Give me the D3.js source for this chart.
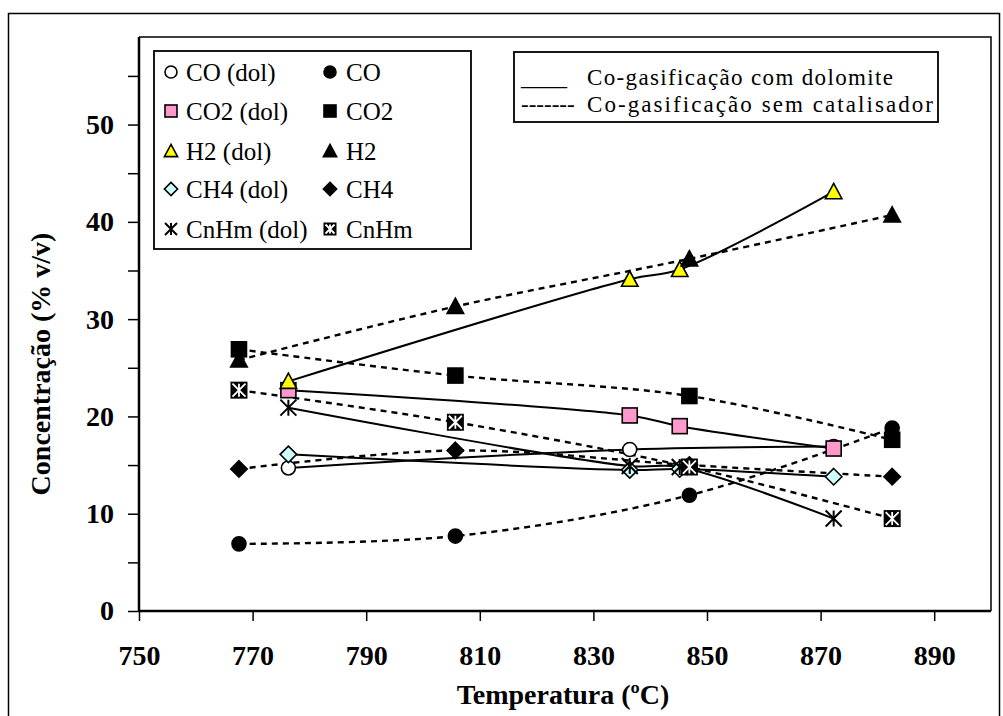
<!DOCTYPE html>
<html>
<head>
<meta charset="utf-8">
<script src="https://cdn.jsdelivr.net/npm/d3@7/dist/d3.min.js"></script>
<style>
  html, body { margin: 0; padding: 0; background: #fff; }
  svg { display: block; }
</style>
</head>
<body>
<svg id="chart" width="1003" height="716"></svg>
<script>
// ---------------- DATA ----------------
const xTicks = [750, 770, 790, 810, 830, 850, 870, 890];
const yTicks = [0, 10, 20, 30, 40, 50];
const yMinorTicks = [5, 15, 25, 35, 45, 55];

// Co-gasificação com dolomite (solid lines)
const tempsDol = [776.3, 836.4, 845.2, 872.3];
const coDol    = [14.7, 16.6, null, 16.9];
const co2Dol   = [22.7, 20.1, 19.0, 16.7];
const h2Dol    = [23.6, 34.1, 35.1, 43.1];
const ch4Dol   = [16.1, 14.5, 14.6, 13.8];
const cnhmDol  = [20.9, 14.9, 14.8, 9.5];

// Co-gasificação sem catalisador (dashed lines)
const tempsSem = [767.6, 805.7, 846.9, 882.6];
const coSem    = [6.9, 7.7, 11.9, 18.8];
const co2Sem   = [26.9, 24.2, 22.1, 17.6];
const h2Sem    = [25.8, 31.3, 36.2, 40.7];
const ch4Sem   = [14.6, 16.5, 15.0, 13.8];
const cnhmSem  = [22.7, 19.4, 14.8, 9.5];

const seriesNames = ["CO (dol)", "CO", "CO2 (dol)", "CO2", "H2 (dol)", "H2", "CH4 (dol)", "CH4", "CnHm (dol)", "CnHm"];
const lineLegend = ["Co-gasificação com dolomite", "Co-gasificação sem catalisador"];
const lineLegendKeys = ["____", "-------"];
const xTitle = "Temperatura (ºC)";
const yTitle = "Concentração (% v/v)";

// ---------------- STYLE / LAYOUT ----------------
const FONT = "'Liberation Serif', 'Times New Roman', 'DejaVu Serif', serif";
const svg = d3.select("#chart");
const plot = { left: 139, right: 991, top: 37, bottom: 611 };
const x = d3.scaleLinear().domain([750, 900]).range([plot.left, plot.right]);
const y = d3.scaleLinear().domain([0, 59]).range([plot.bottom, plot.top]);

const series = [
  { name: seriesNames[0], temps: tempsDol, vals: coDol,   marker: "circle",   fill: "#ffffff", dash: null },
  { name: seriesNames[1], temps: tempsSem, vals: coSem,   marker: "circle",   fill: "#000000", dash: "6,5" },
  { name: seriesNames[2], temps: tempsDol, vals: co2Dol,  marker: "square",   fill: "#ff99cc", dash: null },
  { name: seriesNames[3], temps: tempsSem, vals: co2Sem,  marker: "square",   fill: "#000000", dash: "6,5" },
  { name: seriesNames[4], temps: tempsDol, vals: h2Dol,   marker: "triangle", fill: "#ffff00", dash: null },
  { name: seriesNames[5], temps: tempsSem, vals: h2Sem,   marker: "triangle", fill: "#000000", dash: "6,5" },
  { name: seriesNames[6], temps: tempsDol, vals: ch4Dol,  marker: "diamond",  fill: "#ccffff", dash: null },
  { name: seriesNames[7], temps: tempsSem, vals: ch4Sem,  marker: "diamond",  fill: "#000000", dash: "6,5" },
  { name: seriesNames[8], temps: tempsDol, vals: cnhmDol, marker: "star",     fill: "none",    dash: null },
  { name: seriesNames[9], temps: tempsSem, vals: cnhmSem, marker: "boxx",     fill: "#000000", dash: "6,5" }
];

svg.append("rect").attr("width", 1003).attr("height", 716).attr("fill", "#fff");

// outer border
svg.append("rect").attr("x", 8.5).attr("y", 13.5).attr("width", 991).attr("height", 712)
  .attr("fill", "none").attr("stroke", "#000").attr("stroke-width", 1.5);

// plot frame (top/right)
svg.append("path")
  .attr("d", `M${plot.left},${plot.top}H${plot.right}V${plot.bottom}`)
  .attr("fill", "none").attr("stroke", "#000").attr("stroke-width", 1.5);

// axes
const xAxis = d3.axisBottom(x).tickValues(xTicks).tickSize(10).tickPadding(24).tickFormat(d3.format("d"));
const gx = svg.append("g").attr("transform", `translate(0,${plot.bottom})`).call(xAxis);
gx.select(".domain").attr("stroke-width", 2.5).attr("d", `M${plot.left},0H${plot.right}`);
gx.selectAll(".tick line").attr("stroke-width", 1.5);
gx.selectAll(".tick text").attr("font-size", 28).attr("font-weight", "bold").attr("dy", "0.71em");

const yAxis = d3.axisLeft(y).tickValues(yTicks).tickSize(11).tickPadding(14).tickFormat(d3.format("d"));
const gy = svg.append("g").attr("transform", `translate(${plot.left},0)`).call(yAxis);
gy.select(".domain").attr("stroke-width", 2.5).attr("d", `M0,${plot.top}V${plot.bottom}`);
gy.selectAll(".tick line").attr("stroke-width", 1.5);
gy.selectAll(".tick text").attr("font-size", 28).attr("font-weight", "bold");

const gyMinor = svg.append("g").attr("transform", `translate(${plot.left},0)`)
  .call(d3.axisLeft(y).tickValues(yMinorTicks).tickSize(11).tickFormat(""));
gyMinor.select(".domain").remove();
gyMinor.selectAll(".tick line").attr("stroke-width", 1.5);

// axis titles
svg.append("text").attr("x", (plot.left + plot.right) / 2 - 2).attr("y", 704)
  .attr("text-anchor", "middle").attr("font-size", 28).attr("font-weight", "bold")
  .text(xTitle);
svg.append("text").attr("transform", `translate(50,${(plot.top + plot.bottom) / 2 + 40}) rotate(-90)`)
  .attr("text-anchor", "middle").attr("font-size", 28).attr("font-weight", "bold")
  .text(yTitle);

// markers
function drawMarker(g, type, fill, cx, cy, s) {
  const h = s / 2;
  if (type === "circle") {
    g.append("circle").attr("cx", cx).attr("cy", cy).attr("r", h)
      .attr("fill", fill).attr("stroke", "#000").attr("stroke-width", 1.6);
  } else if (type === "square") {
    g.append("rect").attr("x", cx - h).attr("y", cy - h).attr("width", s).attr("height", s)
      .attr("fill", fill).attr("stroke", "#000").attr("stroke-width", 1.6);
  } else if (type === "triangle") {
    const hh = s * 0.55;
    g.append("path").attr("d", `M${cx},${cy - hh}L${cx + hh},${cy + hh * 0.85}L${cx - hh},${cy + hh * 0.85}Z`)
      .attr("fill", fill).attr("stroke", "#000").attr("stroke-width", 1.6);
  } else if (type === "diamond") {
    const d = s * 0.55;
    g.append("path").attr("d", `M${cx},${cy - d}L${cx + d},${cy}L${cx},${cy + d}L${cx - d},${cy}Z`)
      .attr("fill", fill).attr("stroke", "#000").attr("stroke-width", 1.6);
  } else if (type === "star") {
    const d = s * 0.5;
    g.append("path").attr("d",
      `M${cx - d},${cy - d}L${cx + d},${cy + d}M${cx + d},${cy - d}L${cx - d},${cy + d}M${cx},${cy - d}L${cx},${cy + d}`)
      .attr("fill", "none").attr("stroke", "#000").attr("stroke-width", 2);
  } else if (type === "boxx") {
    g.append("rect").attr("x", cx - h).attr("y", cy - h).attr("width", s).attr("height", s).attr("fill", "#000");
    const d = h - 2;
    g.append("path").attr("d",
      `M${cx - d},${cy - d}L${cx + d},${cy + d}M${cx + d},${cy - d}L${cx - d},${cy + d}M${cx},${cy - d}L${cx},${cy + d}`)
      .attr("fill", "none").attr("stroke", "#fff").attr("stroke-width", 1.8);
  }
}
const markerSize = { circle: 14, square: 15, triangle: 15, diamond: 15, star: 16, boxx: 17 };

// lines
const line = d3.line().x(d => x(d[0])).y(d => y(d[1])).curve(d3.curveCatmullRom.alpha(0.5));
const gLines = svg.append("g");
series.forEach(s => {
  const pts = s.temps.map((t, i) => [t, s.vals[i]]).filter(p => p[1] !== null);
  gLines.append("path").attr("d", line(pts)).attr("fill", "none").attr("stroke", "#000")
    .attr("stroke-width", s.dash ? 2.4 : 2).attr("stroke-dasharray", s.dash);
});

// points
const gPts = svg.append("g");
series.forEach(s => {
  s.temps.forEach((t, i) => {
    if (s.vals[i] === null) return;
    drawMarker(gPts, s.marker, s.fill, x(t), y(s.vals[i]), markerSize[s.marker]);
  });
});

// legend 1 (markers)
const lg1 = svg.append("g");
lg1.append("rect").attr("x", 154).attr("y", 51).attr("width", 317).attr("height", 198)
  .attr("fill", "#fff").attr("stroke", "#000").attr("stroke-width", 1.8);
const rowY = [72, 111, 151, 189, 229];
series.forEach((s, i) => {
  const row = Math.floor(i / 2), col = i % 2;
  const mx = col === 0 ? 171 : 330;
  const tx = col === 0 ? 186 : 346;
  drawMarker(lg1, s.marker, s.fill, mx, rowY[row], s.marker === "boxx" ? 13 : 12);
  lg1.append("text").attr("x", tx).attr("y", rowY[row] + 8.5).attr("font-size", 25).text(s.name);
});

// legend 2 (line styles)
const lg2 = svg.append("g");
lg2.append("rect").attr("x", 514).attr("y", 52).attr("width", 424).attr("height", 70)
  .attr("fill", "#fff").attr("stroke", "#000").attr("stroke-width", 1.8);
const lg2Y = [85, 112];
const lg2Len = [306, 346];
lineLegend.forEach((t, i) => {
  lg2.append("text").attr("x", 521).attr("y", lg2Y[i]).attr("font-size", 23).text(lineLegendKeys[i]);
  lg2.append("text").attr("x", 587).attr("y", lg2Y[i]).attr("font-size", 23)
    .attr("textLength", lg2Len[i]).attr("lengthAdjust", "spacing").text(t);
});

// fonts for all texts
svg.selectAll("text").style("font-family", FONT).attr("fill", "#000");
</script>
</body>
</html>
